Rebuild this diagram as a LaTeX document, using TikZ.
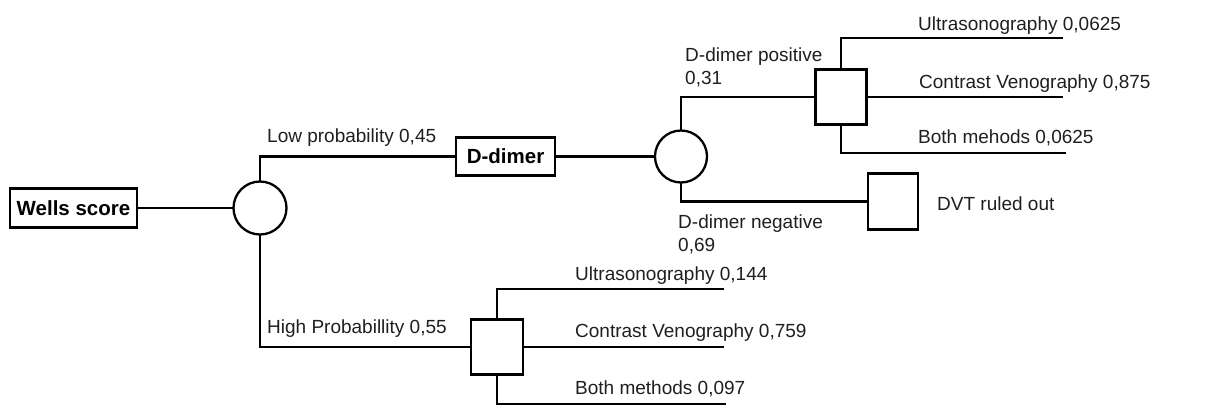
\documentclass[tikz,border=0pt]{standalone}
\usepackage{fontspec}
\setmainfont{Liberation Sans}
\begin{document}
\begin{tikzpicture}[x=1pt,y=-1pt,
  ln/.style={line width=2.7pt, line cap=rect},
  boldbox/.style={draw, line width=2.7pt, rectangle, inner sep=0pt, font=\fontsize{20.5}{24}\selectfont\bfseries},
  chance/.style={draw, line width=2.3pt, circle, inner sep=0pt, minimum size=53pt},
  decision/.style={draw, line width=2.6pt, rectangle, inner sep=0pt},
  lbl/.style={inner sep=0pt, anchor=base west, font=\fontsize{19}{23}\selectfont, text=black!88},
  lbl2/.style={inner sep=0pt, anchor=north west, align=left, font=\fontsize{19}{23}\selectfont, text=black!88}]
\useasboundingbox (0,0) rectangle (1205,408);

% nodes
\node[boldbox, minimum width=127pt, minimum height=39pt] (wells) at (73.5,208) {Wells score};
\node[chance] (c1) at (260,208) {};
\node[boldbox, minimum width=99pt, minimum height=38pt] (ddimer) at (505.5,156.5) {D-dimer};
\node[chance, minimum size=52pt] (c2) at (681,156.5) {};
\node[decision, minimum width=51pt, minimum height=55pt] (sq1) at (841,97) {};
\node[decision, minimum width=50pt, minimum height=56pt] (sq2) at (893,201.5) {};
\node[decision, minimum width=52pt, minimum height=55pt] (sq3) at (497,347) {};

% free ends
\coordinate (e1) at (1062,38);
\coordinate (e2) at (1062,97);
\coordinate (e3) at (1065,153);
\coordinate (e4) at (723,289);
\coordinate (e5) at (723,347);
\coordinate (e6) at (725,404);

% connectors
\draw[ln] (wells.east) -- (c1.west);
\draw[ln] (c1.north) |- (ddimer.west);
\draw[ln] (c1.south) |- (sq3.west);
\draw[ln] (ddimer.east) -- (c2.west);
\draw[ln] (c2.north) |- (sq1.west);
\draw[ln] (c2.south) |- (sq2.west);
\draw[ln] (sq1.north) |- (e1);
\draw[ln] (sq1.east) -- (e2);
\draw[ln] (sq1.south) |- (e3);
\draw[ln] (sq3.north) |- (e4);
\draw[ln] (sq3.east) -- (e5);
\draw[ln] (sq3.south) |- (e6);

% labels
\node[lbl] (lLow) at (267,142) {Low probability 0,45};
\node[lbl] (lHigh) at (267,333) {High Probabillity 0,55};
\node[lbl2] (lPos) at (685,48) {D-dimer positive\\0,31};
\node[lbl2] (lNeg) at (678,215) {D-dimer negative\\0,69};
\node[lbl] (lU1) at (918,30) {Ultrasonography 0,0625};
\node[lbl] (lC1) at (919,88) {Contrast Venography 0,875};
\node[lbl] (lB1) at (918,143) {Both mehods 0,0625};
\node[lbl] (lDVT) at (937,210) {DVT ruled out};
\node[lbl] (lU2) at (575,280) {Ultrasonography 0,144};
\node[lbl] (lC2) at (575,337) {Contrast Venography 0,759};
\node[lbl] (lB2) at (575,394) {Both methods 0,097};
\end{tikzpicture}
\end{document}
